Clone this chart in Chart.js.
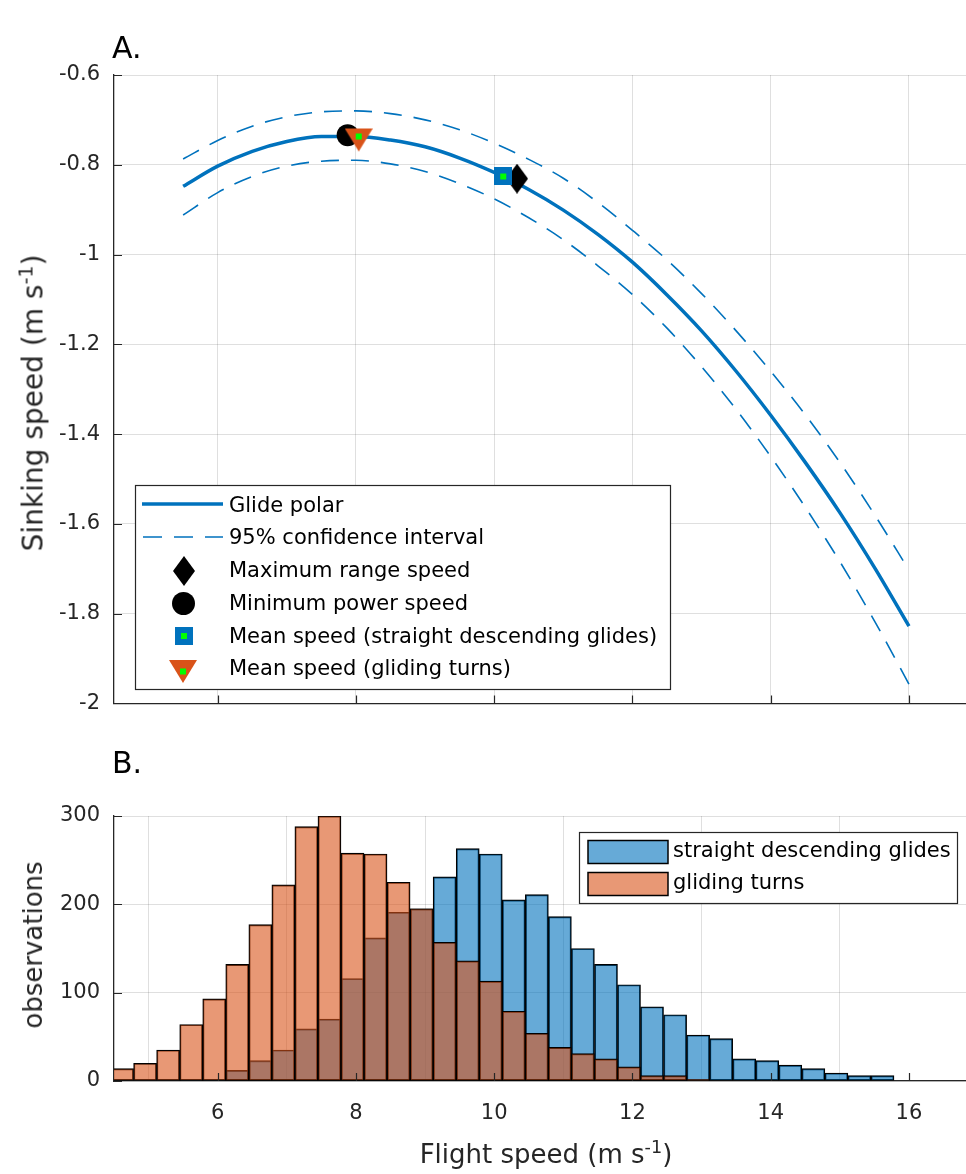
<!DOCTYPE html>
<html>
<head>
<meta charset="utf-8">
<script src="https://cdn.jsdelivr.net/npm/chart.js@4.4.1/dist/chart.umd.min.js"></script>
<style>
  body { margin: 0; background: #fff; width: 966px; height: 1174px; position: relative; overflow: hidden;
         font-family: "DejaVu Sans", sans-serif; color: #262626; }
  canvas { position: absolute; left: 0; }
  .letter { position: absolute; font-size: 30px; color: #000; }
  .ylab { position: absolute; font-size: 26px; white-space: nowrap; transform: translate(-50%, -50%) rotate(-90deg); }
  .xlab { position: absolute; font-size: 26px; white-space: nowrap; transform: translateX(-50%); }
  sup { font-size: 0.68em; line-height: 0; }
</style>
</head>
<body>
<canvas id="polarChart" width="966" height="730" style="top:0"></canvas>
<canvas id="histChart" width="966" height="434" style="top:740px"></canvas>
<div class="letter" style="left:112px;top:30px">A.</div>
<div class="letter" style="left:112px;top:745px">B.</div>
<div class="ylab" style="left:33px;top:403px;font-size:28px">Sinking speed (m s<sup>-1</sup>)</div>
<div class="ylab" style="left:33px;top:945px">observations</div>
<div class="xlab" style="left:546px;top:1139px">Flight speed (m s<sup>-1</sup>)</div>
<script>
// panel A: glide polar with 95% confidence band
const polarSpeed = [5.5, 6, 6.5, 7, 7.5, 8, 8.5, 9, 9.5, 10, 10.5, 11, 11.5, 12, 12.5, 13, 13.5, 14, 14.5, 15, 15.5, 16];
const polarSink = [-0.848, -0.803, -0.770, -0.748, -0.737, -0.737, -0.745, -0.760, -0.785, -0.817, -0.855, -0.901,
                   -0.955, -1.017, -1.090, -1.170, -1.260, -1.358, -1.463, -1.575, -1.697, -1.828];
const ciUpper = [-0.787, -0.746, -0.714, -0.693, -0.682, -0.680, -0.686, -0.700, -0.722, -0.752, -0.788, -0.830,
                 -0.884, -0.946, -1.012, -1.087, -1.170, -1.260, -1.357, -1.463, -1.579, -1.703];
const ciLower = [-0.912, -0.862, -0.826, -0.803, -0.792, -0.790, -0.798, -0.815, -0.842, -0.876, -0.918, -0.967,
                 -1.025, -1.089, -1.164, -1.250, -1.345, -1.450, -1.563, -1.684, -1.816, -1.957];

const maxRange = { x: 10.33, y: -0.831 };
const minPower = { x: 7.88, y: -0.734 };
const meanStraight = { x: 10.13, y: -0.826 };
const meanTurns = { x: 8.04, y: -0.737 };

const polarLegendLabels = ["Glide polar", "95% confidence interval", "Maximum range speed",
  "Minimum power speed", "Mean speed (straight descending glides)", "Mean speed (gliding turns)"];

// panel B: histograms of flight speed, bins of 1/3 m/s
const speedBins = [4.617, 4.950, 5.283, 5.617, 5.950, 6.283, 6.617, 6.950, 7.283, 7.617, 7.950, 8.283,
                   8.617, 8.950, 9.283, 9.617, 9.950, 10.283, 10.617, 10.950, 11.283, 11.617, 11.950, 12.283,
                   12.617, 12.950, 13.283, 13.617, 13.950, 14.283, 14.617, 14.950, 15.283, 15.617];
const straightCounts = [null, null, null, 2, 2, 12, 23, 35, 59, 70, 116, 162, 191, 195, 231, 263, 257, 205,
                        211, 186, 150, 132, 109, 84, 75, 52, 48, 25, 23, 18, 14, 9, 6, 6];
const turnCounts = [14, 20, 35, 64, 93, 132, 177, 222, 288, 300, 258, 257, 225, 195, 157, 136, 113, 79,
                    54, 38, 31, 25, 16, 6, 6, 2, null, null, null, null, null, null, null, null];
const histLegendLabels = ["straight descending glides", "gliding turns"];

const speedTicks = [6, 8, 10, 12, 14, 16];
const sinkTicks = [-2, -1.8, -1.6, -1.4, -1.2, -1, -0.8, -0.6];
const countTicks = [0, 100, 200, 300];

const BLUE = "#0072BD";
const ORANGE = "#D95319";
const GREEN = "#00FF00";
const AXIS = "#262626";
const GRID = "rgba(38,38,38,0.15)";

Chart.defaults.font.family = "'DejaVu Sans', sans-serif";
Chart.defaults.font.size = 21;
Chart.defaults.color = AXIS;
Chart.defaults.animation = false;

// marker images
function markerCanvas(w, h, paint) {
  const c = document.createElement("canvas");
  c.width = w;
  c.height = h;
  paint(c.getContext("2d"), w, h);
  return c;
}

const diamondImg = markerCanvas(22, 30, (g, w, h) => {
  g.fillStyle = "#000";
  g.beginPath();
  g.moveTo(w / 2, 0); g.lineTo(w, h / 2); g.lineTo(w / 2, h); g.lineTo(0, h / 2);
  g.closePath();
  g.fill();
});

const squareImg = markerCanvas(18, 18, (g, w, h) => {
  g.fillStyle = BLUE;
  g.fillRect(0, 0, w, h);
  g.fillStyle = GREEN;
  g.fillRect(6, 6, 6, 6);
});

// down triangle with a green dot in the middle of the image;
// "top" shifts the triangle down so the dot sits higher up inside it
function triangleMarker(top, h) {
  return markerCanvas(28, h, (g, w) => {
    g.fillStyle = ORANGE;
    g.beginPath();
    g.moveTo(0, top); g.lineTo(w, top); g.lineTo(w / 2, top + 23);
    g.closePath();
    g.fill();
    g.fillStyle = GREEN;
    g.fillRect(w / 2 - 3, h / 2 - 3, 6, 6);
  });
}
const trianglePlotImg = triangleMarker(8, 32);
const triangleLegendImg = triangleMarker(0, 23);

function drawCircle(ctx, x, y, r) {
  ctx.fillStyle = "#000";
  ctx.beginPath();
  ctx.arc(x, y, r, 0, Math.PI * 2);
  ctx.fill();
}

function pairs(xs, ys) {
  return xs.map((x, i) => ({ x: x, y: ys[i] }));
}

// MATLAB-like ticks pointing into the axes
const insideTicks = {
  id: "insideTicks",
  afterDatasetsDraw(chart) {
    const { ctx, chartArea, scales } = chart;
    ctx.save();
    ctx.strokeStyle = AXIS;
    ctx.lineWidth = 1.2;
    ctx.beginPath();
    scales.x.ticks.forEach(t => {
      const px = Math.round(scales.x.getPixelForValue(t.value)) + 0.5;
      ctx.moveTo(px, chartArea.bottom);
      ctx.lineTo(px, chartArea.bottom - 8);
    });
    scales.y.ticks.forEach(t => {
      const py = Math.round(scales.y.getPixelForValue(t.value)) + 0.5;
      ctx.moveTo(chartArea.left, py);
      ctx.lineTo(chartArea.left + 8, py);
    });
    ctx.stroke();
    ctx.restore();
  }
};

function boxLegend(id, box, rows) {
  return {
    id: id,
    afterDraw(chart) {
      const ctx = chart.ctx;
      ctx.save();
      ctx.fillStyle = "#fff";
      ctx.fillRect(box.x, box.y, box.w, box.h);
      ctx.strokeStyle = AXIS;
      ctx.lineWidth = 1.2;
      ctx.strokeRect(box.x, box.y, box.w, box.h);
      ctx.font = "21px 'DejaVu Sans'";
      ctx.textBaseline = "middle";
      rows.forEach(row => {
        ctx.save();
        row.symbol(ctx, row.cy);
        ctx.restore();
        ctx.fillStyle = "#000";
        ctx.fillText(row.label, box.textX, row.cy);
      });
      ctx.restore();
    }
  };
}

const polarLegend = boxLegend("polarLegend", { x: 135.5, y: 485.5, w: 535, h: 204, textX: 229 }, [
  { label: polarLegendLabels[0], cy: 507, symbol: (ctx, y) => {
      ctx.strokeStyle = BLUE; ctx.lineWidth = 3.5;
      ctx.beginPath(); ctx.moveTo(142, y - 3); ctx.lineTo(223, y - 3); ctx.stroke();
  } },
  { label: polarLegendLabels[1], cy: 539, symbol: (ctx, y) => {
      ctx.strokeStyle = BLUE; ctx.lineWidth = 1.6; ctx.setLineDash([19, 12]);
      ctx.beginPath(); ctx.moveTo(143, y - 2); ctx.lineTo(223, y - 2); ctx.stroke();
  } },
  { label: polarLegendLabels[2], cy: 572, symbol: (ctx, y) => ctx.drawImage(diamondImg, 184 - 11, y - 16) },
  { label: polarLegendLabels[3], cy: 605, symbol: (ctx, y) => drawCircle(ctx, 183.5, y - 1.5, 11.5) },
  { label: polarLegendLabels[4], cy: 638, symbol: (ctx, y) => ctx.drawImage(squareImg, 184 - 9, y - 11) },
  { label: polarLegendLabels[5], cy: 670, symbol: (ctx, y) => ctx.drawImage(triangleLegendImg, 183 - 14, y - 10) }
]);

const histLegend = boxLegend("histLegend", { x: 579.5, y: 92.5, w: 378, h: 71, textX: 673 }, [
  { label: histLegendLabels[0], cy: 112, symbol: (ctx, y) => {
      ctx.fillStyle = "rgba(0,114,189,0.6)"; ctx.fillRect(588, y - 11.5, 80, 23);
      ctx.strokeStyle = "#000"; ctx.lineWidth = 1.5; ctx.strokeRect(588, y - 11.5, 80, 23);
  } },
  { label: histLegendLabels[1], cy: 144, symbol: (ctx, y) => {
      ctx.fillStyle = "rgba(217,83,25,0.6)"; ctx.fillRect(588, y - 11.5, 80, 23);
      ctx.strokeStyle = "#000"; ctx.lineWidth = 1.5; ctx.strokeRect(588, y - 11.5, 80, 23);
  } }
]);

const speedAxis = (showLabels, height) => ({
  type: "linear",
  min: 4.5,
  max: 16.825,
  offset: false,
  afterBuildTicks: axis => { axis.ticks = speedTicks.map(v => ({ value: v })); },
  afterFit: axis => { axis.height = height; },
  grid: { color: GRID, lineWidth: 1, drawTicks: false },
  border: { color: AXIS, width: 1.3 },
  ticks: { display: showLabels, padding: 20, callback: v => String(v) }
});

const valueAxis = (min, max, tickList) => ({
  type: "linear",
  min: min,
  max: max,
  afterBuildTicks: axis => { axis.ticks = tickList.map(v => ({ value: v })); },
  afterFit: axis => { axis.width = 114; },
  grid: { color: GRID, lineWidth: 1, drawTicks: false },
  border: { color: AXIS, width: 1.3 },
  ticks: { padding: 14, callback: v => String(v) }
});

new Chart(document.getElementById("polarChart"), {
  type: "scatter",
  data: {
    datasets: [
      { data: [meanTurns], pointStyle: trianglePlotImg, pointRadius: 12, order: 0 },
      { data: [meanStraight], pointStyle: squareImg, pointRadius: 9, order: 1 },
      { data: [minPower], pointStyle: "circle", pointRadius: 11, backgroundColor: "#000", borderColor: "#000",
        borderWidth: 0, order: 2 },
      { data: [maxRange], pointStyle: diamondImg, pointRadius: 12, order: 3 },
      { data: pairs(polarSpeed, polarSink), showLine: true, borderColor: BLUE, borderWidth: 3.5, pointRadius: 0,
        cubicInterpolationMode: "monotone", order: 4 },
      { data: pairs(polarSpeed, ciUpper), showLine: true, borderColor: BLUE, borderWidth: 1.6, borderDash: [18, 12],
        pointRadius: 0, cubicInterpolationMode: "monotone", order: 5 },
      { data: pairs(polarSpeed, ciLower), showLine: true, borderColor: BLUE, borderWidth: 1.6, borderDash: [18, 12],
        pointRadius: 0, cubicInterpolationMode: "monotone", order: 5 }
    ]
  },
  options: {
    responsive: false,
    layout: { autoPadding: false, padding: { top: 75, right: 0, bottom: 0, left: 0 } },
    scales: {
      x: speedAxis(false, 20),
      y: valueAxis(-2, -0.6, sinkTicks)
    },
    plugins: { legend: { display: false }, tooltip: { enabled: false } }
  },
  plugins: [insideTicks, polarLegend]
});

new Chart(document.getElementById("histChart"), {
  type: "bar",
  data: {
    datasets: [
      { label: histLegendLabels[0], data: pairs(speedBins, straightCounts), backgroundColor: "rgba(0,114,189,0.6)",
        borderColor: "#000", borderWidth: 1.2, borderSkipped: false, grouped: false,
        barPercentage: 1, categoryPercentage: 1, clip: 0, order: 1 },
      { label: histLegendLabels[1], data: pairs(speedBins, turnCounts), backgroundColor: "rgba(217,83,25,0.6)",
        borderColor: "#000", borderWidth: 1.2, borderSkipped: false, grouped: false,
        barPercentage: 1, categoryPercentage: 1, clip: 0, order: 0 }
    ]
  },
  options: {
    responsive: false,
    layout: { autoPadding: false, padding: { top: 76, right: 0, bottom: 0, left: 0 } },
    scales: {
      x: speedAxis(true, 93),
      y: valueAxis(0, 300, countTicks)
    },
    plugins: { legend: { display: false }, tooltip: { enabled: false } }
  },
  plugins: [insideTicks, histLegend]
});
</script>
</body>
</html>
